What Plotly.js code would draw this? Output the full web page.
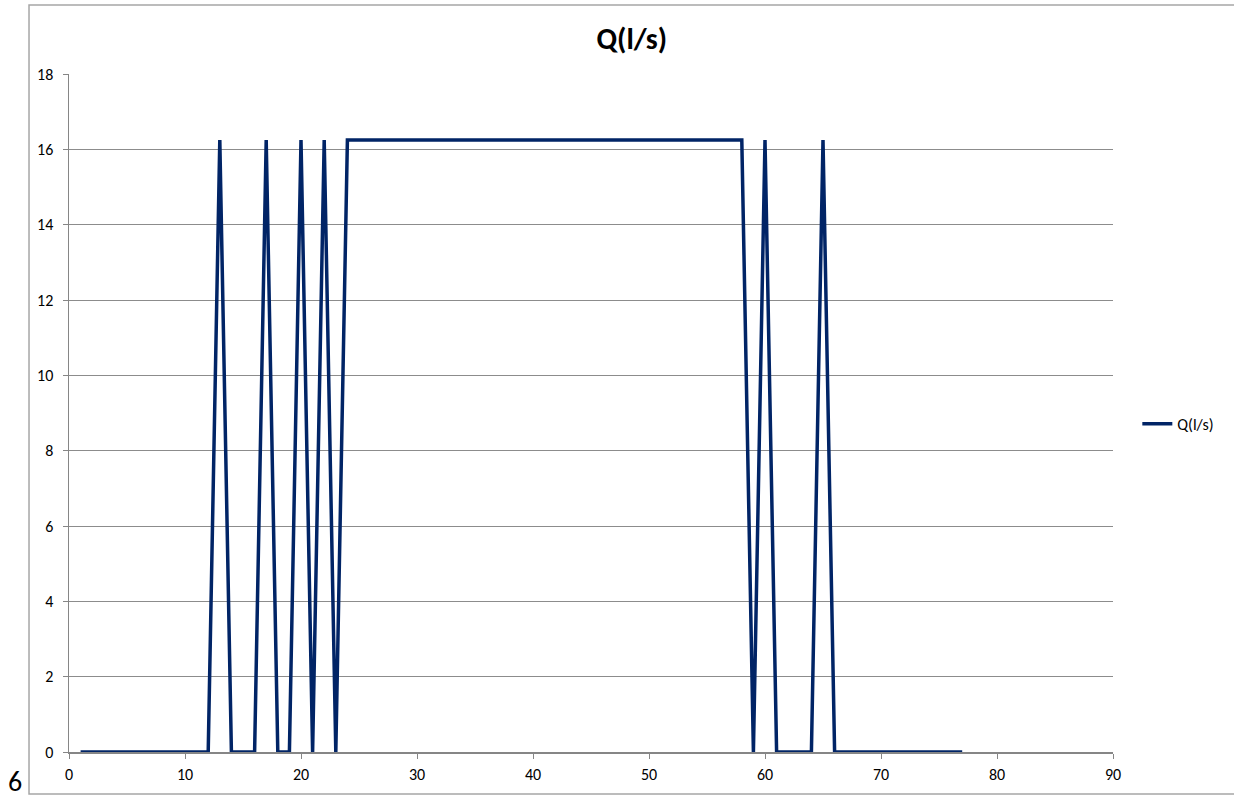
<!DOCTYPE html>
<html>
<head>
<meta charset="utf-8">
<script src="https://cdn.plot.ly/plotly-3.0.1.min.js"></script>
<style>
  html, body { margin: 0; padding: 0; background: #ffffff; }
  #chart { width: 1234px; height: 798px; }
</style>
</head>
<body>
<div id="chart"></div>
<script>
// Flow rate Q (l/s) per step
const seriesName = "Q(l/s)";
const steps = [
  1, 2, 3, 4, 5, 6, 7, 8, 9, 10,
  11, 12, 13, 14, 15, 16, 17, 18, 19, 20,
  21, 22, 23, 24, 25, 26, 27, 28, 29, 30,
  31, 32, 33, 34, 35, 36, 37, 38, 39, 40,
  41, 42, 43, 44, 45, 46, 47, 48, 49, 50,
  51, 52, 53, 54, 55, 56, 57, 58, 59, 60,
  61, 62, 63, 64, 65, 66, 67, 68, 69, 70,
  71, 72, 73, 74, 75, 76, 77
];
const flow = [
  0, 0, 0, 0, 0, 0, 0, 0, 0, 0,
  0, 0, 16.25, 0, 0, 0, 16.25, 0, 0, 16.25,
  0, 16.25, 0, 16.25, 16.25, 16.25, 16.25, 16.25, 16.25, 16.25,
  16.25, 16.25, 16.25, 16.25, 16.25, 16.25, 16.25, 16.25, 16.25, 16.25,
  16.25, 16.25, 16.25, 16.25, 16.25, 16.25, 16.25, 16.25, 16.25, 16.25,
  16.25, 16.25, 16.25, 16.25, 16.25, 16.25, 16.25, 16.25, 0, 16.25,
  0, 0, 0, 0, 16.25, 0, 0, 0, 0, 0,
  0, 0, 0, 0, 0, 0, 0
];
const xTicks = [0, 10, 20, 30, 40, 50, 60, 70, 80, 90];
const yTicks = [0, 2, 4, 6, 8, 10, 12, 14, 16, 18];
const strayLabel = "6";

const fontFamily = "Carlito, 'Open Sans', 'Liberation Sans', sans-serif";

const trace = {
  x: steps,
  y: flow,
  type: "scatter",
  mode: "lines",
  name: seriesName,
  line: { color: "#012466", width: 3.5, shape: "linear" },
  showlegend: true
};

const layout = {
  width: 1234,
  height: 798,
  margin: { l: 69, r: 121, t: 74, b: 46, pad: 0 },
  paper_bgcolor: "#ffffff",
  plot_bgcolor: "#ffffff",
  font: { family: fontFamily, size: 12, color: "#000000" },
  title: {
    text: "<b>" + seriesName + "</b>",
    font: { family: fontFamily, size: 30, color: "#000000" },
    x: 0.512,
    xanchor: "center",
    y: 0.952,
    yanchor: "middle",
    xref: "container",
    yref: "container"
  },
  xaxis: {
    range: [0, 90],
    tickmode: "array",
    tickvals: xTicks,
    ticktext: xTicks.map(String),
    showgrid: false,
    zeroline: false,
    showline: true,
    linecolor: "#868686",
    linewidth: 1.5,
    ticks: "outside",
    ticklen: 5,
    tickcolor: "#868686",
    ticklabelstandoff: 2,
    tickfont: { family: fontFamily, size: 16, color: "#000000" },
    fixedrange: true
  },
  yaxis: {
    range: [0, 18],
    tickmode: "array",
    tickvals: yTicks,
    ticktext: yTicks.map(String),
    showgrid: true,
    gridcolor: "#8c8c8c",
    gridwidth: 1,
    zeroline: false,
    showline: true,
    linecolor: "#868686",
    linewidth: 1.5,
    ticks: "outside",
    ticklen: 5,
    tickcolor: "#868686",
    ticklabelstandoff: 6,
    tickfont: { family: fontFamily, size: 16, color: "#000000" },
    fixedrange: true
  },
  legend: {
    x: 1.0233,
    y: 0.484,
    xanchor: "left",
    yanchor: "middle",
    bgcolor: "rgba(0,0,0,0)",
    borderwidth: 0,
    font: { family: fontFamily, size: 16, color: "#000000" },
    itemwidth: 30,
    tracegroupgap: 0
  },
  shapes: [
    {
      type: "rect",
      xref: "paper",
      yref: "paper",
      x0: -0.0383,
      x1: 1.12,
      y0: -0.0619,
      y1: 1.1018,
      line: { color: "#a6a6a6", width: 1.5 },
      fillcolor: "rgba(0,0,0,0)",
      layer: "below"
    }
  ],
  annotations: [
    {
      text: strayLabel,
      xref: "paper",
      yref: "paper",
      x: -0.0517,
      y: -0.044,
      xanchor: "center",
      yanchor: "middle",
      showarrow: false,
      font: { family: fontFamily, size: 28, color: "#000000" }
    }
  ]
};

Plotly.newPlot("chart", [trace], layout, { displayModeBar: false, staticPlot: true });
</script>
</body>
</html>
